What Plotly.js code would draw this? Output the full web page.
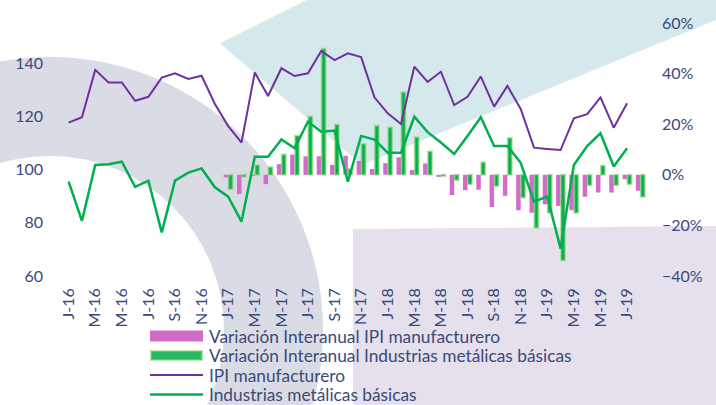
<!DOCTYPE html>
<html><head><meta charset="utf-8">
<script src="https://cdn.plot.ly/plotly-3.0.1.min.js"></script>
<style>html,body{margin:0;padding:0;background:#fff;} #chart{width:716px;height:405px;}</style>
</head><body><div id="chart"></div>
<script>
// Categories (monthly, Jan 2016 - Aug 2019)
const months = [
 'ene-16','feb-16','mar-16','abr-16','may-16','jun-16','jul-16','ago-16','sep-16','oct-16','nov-16','dic-16',
 'ene-17','feb-17','mar-17','abr-17','may-17','jun-17','jul-17','ago-17','sep-17','oct-17','nov-17','dic-17',
 'ene-18','feb-18','mar-18','abr-18','may-18','jun-18','jul-18','ago-18','sep-18','oct-18','nov-18','dic-18',
 'ene-19','feb-19','mar-19','abr-19','may-19','jun-19','jul-19','ago-19'
];
// Tick labels (every second month)
const tickLabels = ['J-16','M-16','M-16','J-16','S-16','N-16','J-17','M-17','M-17','J-17','S-17','N-17',
 'J-18','M-18','M-18','J-18','S-18','N-18','J-19','M-19','M-19','J-19'];

// Series names
const seriesNames = ['Variación Interanual IPI manufacturero','Variación Interanual Industrias metálicas básicas',
 'IPI manufacturero','Industrias metálicas básicas'];

// Index series (left axis)
const ipiManufacturero = [117.6,119.6,137.4,132.7,132.7,125.8,127.3,134.5,136.1,134.0,135.2,124.6,
 116.3,110.1,136.4,127.6,138.0,135.1,136.1,144.5,141.1,143.6,142.2,127.1,
 121.1,117.1,138.6,132.9,136.7,124.2,127.3,134.9,123.6,131.4,122.7,108.2,
 107.7,107.3,119.2,120.8,127.1,115.7,124.9,null];
const industriasMetalicas = [95.4,80.7,101.7,102.0,102.9,93.5,95.8,76.4,95.8,98.8,100.4,93.3,
 89.8,80.4,104.8,104.8,111.3,108.0,118.0,114.2,114.6,95.4,112.6,111.2,
 106.3,106.3,119.8,114.0,110.1,105.8,112.6,119.6,108.8,108.8,102.5,87.9,
 89.8,70.3,101.7,108.8,113.6,101.1,108.0,null];

// Year-on-year variation, % (right axis)
const varIPI = [null,null,null,null,null,null,null,null,null,null,null,null,
 -1.0,-7.6,-0.5,-3.7,4.2,8.0,7.3,7.3,3.9,7.5,5.5,2.3,
 4.6,6.9,1.9,4.5,-0.8,-8.0,-6.1,-5.9,-12.7,-8.3,-14.0,-15.0,
 -11.7,-12.3,-14.0,-8.7,-7.0,-7.0,-1.7,-6.3];
const varMetalicas = [null,null,null,null,null,null,null,null,null,null,null,null,
 -5.7,-0.8,3.8,3.0,8.0,15.4,23.0,49.8,19.8,2.3,12.2,19.4,
 18.7,32.6,14.8,9.2,-0.5,-2.1,-3.7,4.9,-4.4,14.5,-9.0,-20.9,
 -15.0,-33.8,-15.0,-4.1,3.6,-4.1,-3.7,-8.7];

const W=716,H=405,L=62,R=69,T=23,B=129;
const pw=W-L-R, ph=H-T-B;
const px=v=>(v-L)/pw, py=v=>(H-B-v)/ph;
function poly(pts){return 'M'+pts.map(p=>px(p[0]).toFixed(4)+','+py(p[1]).toFixed(4)).join(' L')+' Z';}

const textColor='#3a4a7a';
const fontFam='Lato, "Open Sans", sans-serif';
const colPink='#d16cc9', colGreen='#00b050', colPurple='#7030a0';

const shapes=[
 {type:'circle',xref:'paper',yref:'paper',x0:px(50-273),x1:px(50+273),y0:py(330+273),y1:py(330-273),
  fillcolor:'#dadce5',line:{width:0},layer:'below'},
 {type:'circle',xref:'paper',yref:'paper',x0:px(50-174),x1:px(50+174),y0:py(330+174),y1:py(330-174),
  fillcolor:'#ffffff',line:{width:0},layer:'below'},
 {type:'path',xref:'paper',yref:'paper',path:poly([[220,43.3],[306.7,0],[722,-2],[722,17.5],[362,165]]),
  fillcolor:'#d5e8ec',line:{width:0},layer:'below'},
 {type:'path',xref:'paper',yref:'paper',path:poly([[353,229],[722,226],[722,410],[353,410]]),
  fillcolor:'#e5e0eb',line:{width:0},layer:'below'}
];

// Legend (drawn as shapes + text so that the keys have the original wide look)
const legRows=[336,355.5,375,394.5];
const legX0=150, legX1=203, legTextX=208;
shapes.push(
 {type:'rect',xref:'paper',yref:'paper',x0:px(legX0),x1:px(legX1),y0:py(legRows[0]+5.5),y1:py(legRows[0]-5.5),
  fillcolor:colPink,line:{width:0},layer:'above'},
 {type:'rect',xref:'paper',yref:'paper',x0:px(legX0+1),x1:px(legX1-1),y0:py(legRows[1]+4.5),y1:py(legRows[1]-4.5),
  fillcolor:'#27b862',line:{color:'rgba(150,210,120,0.6)',width:2},layer:'above'},
 {type:'line',xref:'paper',yref:'paper',x0:px(legX0),x1:px(legX1),y0:py(legRows[2]),y1:py(legRows[2]),
  line:{color:colPurple,width:2.2},layer:'above'},
 {type:'line',xref:'paper',yref:'paper',x0:px(legX0),x1:px(legX1),y0:py(legRows[3]),y1:py(legRows[3]),
  line:{color:colGreen,width:2.5},layer:'above'}
);
const annotations=seriesNames.map((n,i)=>({xref:'paper',yref:'paper',x:px(legTextX),y:py(legRows[i]),
 xanchor:'left',yanchor:'middle',text:n,showarrow:false,borderpad:0,
 font:{size:17.3,color:textColor,family:fontFam}}));

const data=[
 {type:'bar',x:months,y:varIPI,yaxis:'y',name:seriesNames[0],
  marker:{color:colPink},width:0.34,offset:-0.34},
 {type:'bar',x:months,y:varMetalicas,yaxis:'y',name:seriesNames[1],
  marker:{color:colGreen,line:{color:'rgba(140,205,110,0.55)',width:2}},width:0.3,offset:0.03},
 {type:'scatter',mode:'lines',x:months,y:ipiManufacturero,yaxis:'y2',name:seriesNames[2],
  line:{color:colPurple,width:2}},
 {type:'scatter',mode:'lines',x:months,y:industriasMetalicas,yaxis:'y2',name:seriesNames[3],
  line:{color:colGreen,width:2.5}}
];

const layout={
 width:W,height:H,margin:{l:L,r:R,t:T,b:B,pad:0,autoexpand:false},
 paper_bgcolor:'#ffffff',plot_bgcolor:'rgba(0,0,0,0)',
 font:{family:fontFam,color:textColor,size:16},
 showlegend:false,barmode:'overlay',
 xaxis:{type:'category',categoryorder:'array',categoryarray:months,range:[-0.5,43.5],automargin:false,
  tickvals:months.filter((m,i)=>i%2===0),ticktext:tickLabels,tickangle:-90,
  tickfont:{size:16,color:textColor,family:fontFam},showgrid:false,zeroline:false,showline:false,
  ticks:'',ticklabelstandoff:8},
 yaxis:{range:[-40,60],tick0:-40,dtick:20,side:'right',ticksuffix:'%',showgrid:false,zeroline:false,automargin:false,
  showline:false,ticks:'',tickfont:{size:16,color:textColor,family:fontFam},ticklabelstandoff:14},
 yaxis2:{range:[60,155],tick0:60,dtick:20,overlaying:'y',side:'left',showgrid:false,zeroline:false,automargin:false,
  showline:false,ticks:'',tickfont:{size:16,color:textColor,family:fontFam},ticklabelstandoff:18},
 shapes:shapes,annotations:annotations
};
Plotly.newPlot('chart',data,layout,{displayModeBar:false,staticPlot:true});
</script>
</body></html>
